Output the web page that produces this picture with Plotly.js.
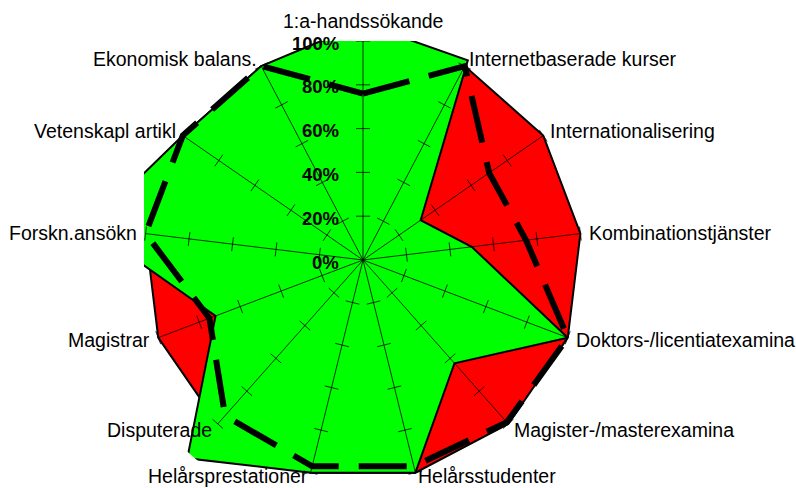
<!DOCTYPE html>
<html><head><meta charset="utf-8">
<script src="https://cdn.plot.ly/plotly-3.0.1.min.js"></script>
<style>html,body{margin:0;padding:0;background:#fff;overflow:hidden}
#frame{width:796px;height:488px;overflow:hidden;position:relative}
#chart{position:absolute;left:0;top:0;width:796px;height:520px}</style>
</head><body><div id="frame"><div id="chart"></div></div>
<script>
const categories = ['1:a-handssökande','Internetbaserade kurser','Internationalisering','Kombinationstjänster','Doktors-/licentiatexamina','Magister-/masterexamina','Helårsstudenter','Helårsprestationer','Disputerade','Magistrar','Forskn.ansökn','Vetenskapl artikl','Ekonomisk balans.'];
const maxValues = [100,100,100,100,100,100,100,100,100,100,100,100,100];
const actualValues = [108,103,32,50,100,63,100,100,121,72,126,100,100];
const targetValues = [76,100,70,75,100,99,97,97,95,75,100,100,100];
const radialTicks = [0,20,40,60,80,100];
const radialTickLabels = ['0%','20%','40%','60%','80%','100%'];

// layout geometry (pixels)
const W = 796, H = 488, HL = 520;        // visible height / layout height
const CX = 363, CY = 260, RPX = 219;     // radar centre and 100 % radius
const RCLIP = 260;                       // polar drawing radius (lets values > 100 % show)
const LABEL_GAP = 7.5, FONT = 'Liberation Sans, Arial, sans-serif';
const RMAX = radialTicks[radialTicks.length - 1];
const RANGE_MAX = RMAX * RCLIP / RPX;
const closed = a => a.concat([a[0]]);
const N = categories.length;
const angleOf = i => i * 360 / N;
const px2x = p => p / W, px2y = p => 1 - p / HL;

// spokes (category axes) drawn above the filled areas
const spokeR = [], spokeT = [];
categories.forEach(c => { spokeR.push(0, RMAX, null); spokeT.push(c, c, c); });
// cross ticks on every spoke
const tickR = [], tickT = [], tickA = [];
categories.forEach((c, i) => {
  radialTicks.slice(1).forEach(v => { tickR.push(v); tickT.push(c); tickA.push(angleOf(i)); });
});

const traces = [
  {type:'scatterpolar', r: closed(maxValues), theta: closed(categories), mode:'lines', fill:'toself',
   fillcolor:'#FF0000', line:{color:'#000', width:2}, hoverinfo:'skip'},
  {type:'scatterpolar', r: closed(actualValues), theta: closed(categories), mode:'lines', fill:'toself',
   fillcolor:'#00FF00', line:{color:'#000', width:2}, hoverinfo:'skip'},
  {type:'scatterpolar', r: spokeR, theta: spokeT, mode:'lines', line:{color:'#000', width:0.8}, hoverinfo:'skip'},
  {type:'scatterpolar', r: tickR, theta: tickT, mode:'markers',
   marker:{symbol:'line-ew', size:10, angle: tickA, color:'#000', line:{color:'#000', width:0.8}}, hoverinfo:'skip'},
  {type:'scatterpolar', r: closed(targetValues), theta: closed(categories), mode:'lines',
   line:{color:'#000', width:6, dash:'48px,20px'}, hoverinfo:'skip'}
];

// category labels placed just outside the 100% vertex of each spoke
const annotations = categories.map((c, i) => {
  const a = angleOf(i) * Math.PI / 180, s = Math.sin(a), co = Math.cos(a);
  const d = RPX + LABEL_GAP;
  const px = CX + d * s;
  let py = CY - d * co;
  const side = Math.abs(s) < 0.05;
  if (!side) py = Math.min(py, H - 12);
  return {text: c, xref:'paper', yref:'paper', x: px2x(px), y: px2y(py), showarrow:false,
    xanchor: side ? 'center' : (s > 0 ? 'left' : 'right'),
    yanchor: side ? (co > 0 ? 'bottom' : 'top') : 'middle',
    font:{size:19.5, family:FONT, color:'#000'}, borderpad:0};
});
// radial (percentage) labels left of the vertical axis
radialTicks.forEach((v, i) => {
  annotations.push({text: radialTickLabels[i], xref:'paper', yref:'paper',
    x: px2x(CX - 23), y: px2y(CY - v / RMAX * RPX + 2), xanchor:'right', yanchor:'middle', showarrow:false,
    font:{size:18.5, family:FONT, color:'#000', weight:'bold'}, borderpad:0});
});

// plot-area clipping of the original chart (square around the 100% circle)
const L = CX - RPX, R = CX + RPX, T = CY - RPX, B = CY + RPX;
const mask = (x0, x1, y0, y1) => ({type:'rect', xref:'paper', yref:'paper', layer:'above',
  x0: px2x(x0), x1: px2x(x1), y0: px2y(y0), y1: px2y(y1), fillcolor:'#fff', line:{width:0}});
const shapes = [mask(0, L, 0, HL), mask(R, W, 0, HL), mask(L, R, 0, T), mask(L, R, B, HL)];

const layout = {
  width:W, height:HL, margin:{l:0,r:0,t:0,b:0}, showlegend:false,
  paper_bgcolor:'#fff', font:{family:FONT, color:'#000'},
  annotations: annotations, shapes: shapes,
  polar:{
    domain:{x:[px2x(CX-RCLIP), px2x(CX+RCLIP)], y:[px2y(CY+RCLIP), px2y(CY-RCLIP)]},
    bgcolor:'rgba(0,0,0,0)', gridshape:'circular',
    angularaxis:{direction:'clockwise', rotation:90, showline:false, showgrid:false, ticks:'', showticklabels:false},
    radialaxis:{range:[0,RANGE_MAX], angle:90, showline:false, showgrid:false, showticklabels:false, ticks:''}
  }
};
Plotly.newPlot('chart', traces, layout, {staticPlot:true});
</script></body></html>
